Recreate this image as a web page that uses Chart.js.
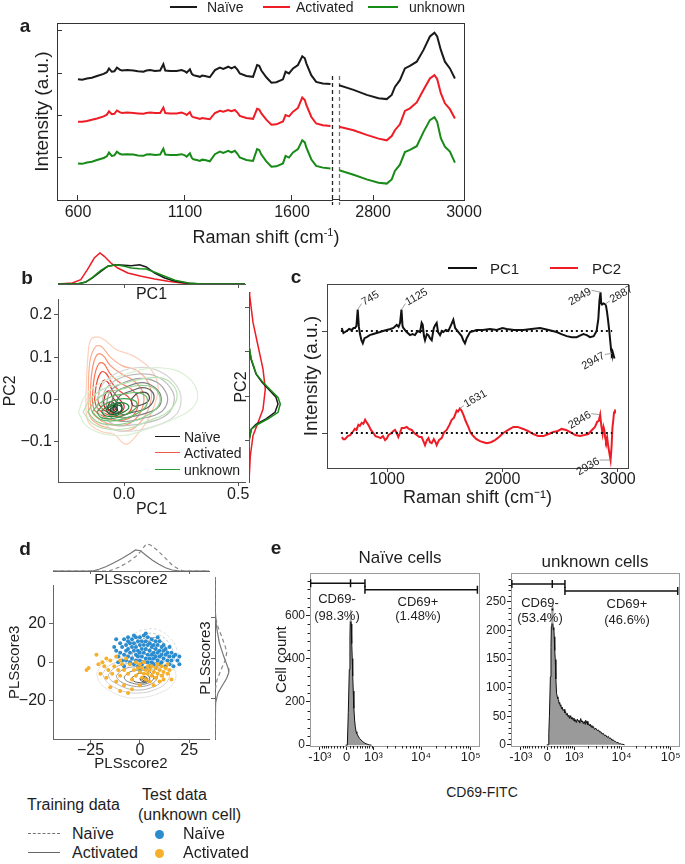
<!DOCTYPE html>
<html><head><meta charset="utf-8">
<script src="https://cdn.jsdelivr.net/npm/chart.js@4.4.1/dist/chart.umd.min.js"></script>
<style>
body{margin:0;background:#fff;}
#fig{position:relative;width:685px;height:864px;overflow:hidden;font-family:"Liberation Sans",Arial,sans-serif;color:#1e1e1e;}
#fig canvas{position:absolute;}
.t{position:absolute;white-space:nowrap;line-height:1;}
.sw{position:absolute;height:0;}
.dot{position:absolute;border-radius:50%;}
</style></head><body><div id="fig"></div>
<script>
// ---- a: mean Raman spectra (offset for display) ----
const waveA1 = [600,620,642,665,689,720,735,745,758,770,782,795,805,830,859,880,906,920,937,960,984,999,1008,1030,1061,1084,1100,1108,1123,1132,1139,1155,1170,1180,1193,1216,1240,1263,1279,1302,1317,1333,1345,1356,1387,1418,1437,1447,1457,1480,1504,1527,1558,1570,1586,1605,1628,1648,1660,1667,1690,1713,1744,1780];
const naiveA1 = [1.85,1.84,1.87,1.89,1.93,1.98,2.02,2.11,2.03,2.04,2.13,2.08,2.06,2.07,2.06,2.04,2.03,2.06,2.07,2.05,2.06,2.21,2.06,2.05,2.05,2.07,2.04,2.01,2.09,1.98,1.95,1.93,1.91,1.94,1.93,1.90,2.07,2.13,2.10,2.15,2.11,2.15,2.08,1.99,1.93,1.91,2.19,2.17,2.06,1.90,1.77,1.78,1.85,2.03,1.99,2.11,2.19,2.40,2.35,2.23,1.95,1.79,1.75,1.74];
const activatedA1 = [0.84,0.84,0.86,0.89,0.92,0.97,1.01,1.09,1.02,1.03,1.11,1.07,1.05,1.06,1.05,1.04,1.03,1.05,1.06,1.05,1.05,1.18,1.05,1.04,1.04,1.06,1.03,1.00,1.07,0.97,0.95,0.93,0.91,0.93,0.92,0.90,1.05,1.10,1.08,1.12,1.09,1.12,1.06,0.98,0.93,0.91,1.15,1.13,1.04,0.89,0.77,0.78,0.85,1.00,0.97,1.08,1.17,1.42,1.36,1.24,0.96,0.80,0.76,0.74];
const unknownA1 = [-0.15,-0.16,-0.13,-0.11,-0.07,-0.02,0.02,0.11,0.03,0.04,0.13,0.08,0.06,0.07,0.06,0.04,0.03,0.06,0.07,0.05,0.06,0.20,0.06,0.05,0.05,0.07,0.04,0.01,0.09,-0.02,-0.05,-0.07,-0.09,-0.06,-0.07,-0.10,0.07,0.13,0.10,0.15,0.11,0.15,0.08,-0.01,-0.07,-0.09,0.19,0.17,0.06,-0.10,-0.23,-0.22,-0.15,0.03,-0.01,0.11,0.19,0.40,0.35,0.23,-0.05,-0.21,-0.25,-0.27];
const waveA2 = [2725,2757,2786,2812,2830,2841,2848,2859,2870,2881,2896,2911,2925,2935,2941,2949,2958,2969,2980];
const naiveA2 = [1.71,1.60,1.48,1.40,1.38,1.48,1.67,1.83,2.11,2.17,2.27,2.55,2.87,2.96,2.87,2.55,2.27,2.11,1.87];
const activatedA2 = [0.72,0.64,0.53,0.44,0.40,0.50,0.64,0.78,1.10,1.16,1.30,1.60,1.87,1.95,1.86,1.52,1.28,1.14,0.92];
const unknownA2 = [-0.31,-0.42,-0.53,-0.61,-0.63,-0.53,-0.33,-0.18,0.12,0.17,0.26,0.60,0.88,0.95,0.84,0.45,0.25,0.13,-0.13];
const tickA1 = [600,1100,1600];
const tickA2 = [2800,3000];
const tickAy = [0,1,2,3];

// ---- b: PCA scores, KDE contours and marginals ----
const tickB1 = [0,0.5], tickB1Lab = ['0.0','0.5'];
const tickB2 = [-0.1,0,0.1,0.2], tickB2Lab = ['\u22120.1','0.0','0.1','0.2'];
const bRed = [
 [[-0.168,0.008],[-0.158,0.107],[-0.146,0.141],[-0.117,0.148],[-0.087,0.141],[-0.035,0.118],[0.023,0.107],[0.053,0.099],[0.12,0.069],[0.149,0.031],[0.127,-0.022],[0.09,-0.06],[0.046,-0.09],[0.016,-0.105],[-0.006,-0.102],[-0.043,-0.083],[-0.102,-0.075],[-0.158,-0.052]],
 [[-0.158,0.0],[-0.15,0.09],[-0.125,0.125],[-0.1,0.125],[-0.06,0.1],[-0.01,0.08],[0.05,0.07],[0.1,0.045],[0.12,0.01],[0.1,-0.03],[0.05,-0.065],[0.0,-0.075],[-0.05,-0.07],[-0.11,-0.06],[-0.15,-0.04]],
 [[-0.15,0.0],[-0.14,0.07],[-0.12,0.105],[-0.095,0.105],[-0.06,0.08],[-0.01,0.06],[0.04,0.045],[0.08,0.02],[0.085,-0.01],[0.06,-0.04],[0.01,-0.06],[-0.05,-0.06],[-0.1,-0.05],[-0.14,-0.03]],
 [[-0.14,0.0],[-0.13,0.055],[-0.11,0.085],[-0.09,0.085],[-0.06,0.06],[-0.02,0.04],[0.03,0.025],[0.06,0.005],[0.055,-0.025],[0.02,-0.045],[-0.04,-0.05],[-0.09,-0.04],[-0.13,-0.025]],
 [[-0.13,0.0],[-0.12,0.04],[-0.1,0.065],[-0.08,0.062],[-0.055,0.04],[-0.02,0.02],[0.02,0.005],[0.035,-0.015],[0.01,-0.035],[-0.04,-0.04],[-0.09,-0.032],[-0.12,-0.018]],
 [[-0.115,0.0],[-0.105,0.03],[-0.09,0.045],[-0.07,0.04],[-0.05,0.02],[-0.02,0.0],[0.0,-0.015],[-0.015,-0.03],[-0.05,-0.033],[-0.09,-0.025],[-0.11,-0.012]],
 [[-0.09,-0.005],[-0.08,0.015],[-0.065,0.02],[-0.05,0.005],[-0.03,-0.012],[-0.04,-0.025],[-0.065,-0.027],[-0.085,-0.018]],
 [[-0.07,-0.015],[-0.06,-0.005],[-0.045,-0.01],[-0.045,-0.022],[-0.06,-0.025],[-0.072,-0.02]]
];
const bGray = [
 [[-0.12,-0.02],[-0.1,0.03],[-0.04,0.06],[0.05,0.075],[0.14,0.07],[0.22,0.04],[0.25,0.0],[0.22,-0.04],[0.12,-0.065],[0.02,-0.075],[-0.07,-0.065]],
 [[-0.1,-0.02],[-0.08,0.025],[-0.02,0.05],[0.06,0.06],[0.14,0.055],[0.2,0.03],[0.22,0.0],[0.19,-0.035],[0.1,-0.055],[0.0,-0.062],[-0.06,-0.055]],
 [[-0.08,-0.02],[-0.06,0.02],[0.0,0.04],[0.07,0.05],[0.14,0.042],[0.18,0.02],[0.19,-0.005],[0.16,-0.03],[0.08,-0.045],[0.0,-0.052],[-0.05,-0.045]],
 [[-0.06,-0.02],[-0.04,0.015],[0.01,0.03],[0.08,0.04],[0.13,0.03],[0.16,0.01],[0.155,-0.015],[0.11,-0.03],[0.04,-0.04],[-0.02,-0.042]],
 [[-0.04,-0.02],[-0.02,0.008],[0.03,0.02],[0.08,0.028],[0.12,0.02],[0.13,0.0],[0.1,-0.02],[0.04,-0.03],[-0.01,-0.035]],
 [[0.03,0.0],[0.06,0.015],[0.1,0.015],[0.11,0.0],[0.08,-0.012],[0.04,-0.015]],
 [[-0.05,-0.02],[-0.03,-0.008],[-0.01,-0.015],[-0.02,-0.03],[-0.045,-0.03]]
];
const bGreen = [
 [[-0.2,-0.03],[-0.17,0.01],[-0.1,0.04],[-0.02,0.055],[0.07,0.07],[0.16,0.075],[0.26,0.06],[0.32,0.02],[0.3,-0.02],[0.2,-0.05],[0.1,-0.07],[0.0,-0.085],[-0.1,-0.08],[-0.17,-0.06]],
 [[-0.18,-0.03],[-0.15,0.0],[-0.09,0.025],[0.0,0.038],[0.09,0.05],[0.17,0.05],[0.22,0.03],[0.23,0.0],[0.19,-0.03],[0.11,-0.05],[0.02,-0.068],[-0.07,-0.07],[-0.14,-0.056]],
 [[-0.16,-0.03],[-0.13,-0.005],[-0.08,0.015],[-0.01,0.025],[0.06,0.033],[0.12,0.03],[0.155,0.01],[0.15,-0.015],[0.1,-0.038],[0.02,-0.055],[-0.06,-0.06],[-0.12,-0.052]],
 [[-0.14,-0.03],[-0.11,-0.01],[-0.06,0.006],[0.0,0.013],[0.06,0.016],[0.1,0.004],[0.09,-0.02],[0.03,-0.04],[-0.04,-0.05],[-0.1,-0.048]],
 [[-0.12,-0.03],[-0.09,-0.013],[-0.05,-0.003],[0.0,0.002],[0.05,-0.004],[0.055,-0.018],[0.01,-0.035],[-0.05,-0.045],[-0.1,-0.043]],
 [[-0.1,-0.028],[-0.07,-0.015],[-0.03,-0.008],[0.01,-0.01],[0.02,-0.02],[-0.01,-0.032],[-0.05,-0.04],[-0.085,-0.038]],
 [[-0.08,-0.025],[-0.055,-0.015],[-0.02,-0.014],[-0.01,-0.024],[-0.035,-0.034],[-0.065,-0.034]],
 [[-0.062,-0.023],[-0.045,-0.017],[-0.03,-0.021],[-0.038,-0.029],[-0.056,-0.029]]
];
const bTopXRed = [-0.29,-0.227,-0.19,-0.161,-0.131,-0.106,-0.087,-0.058,-0.028,0.016,0.075,0.134,0.193,0.252,0.311,0.53];
const bTopRed = [0,1,4.3,14.3,26,31,27.7,21,16,11,7.7,5,2.7,1,0,0];
const bTopX = [-0.29,-0.205,-0.168,-0.139,-0.102,-0.072,-0.035,0.001,0.031,0.068,0.097,0.134,0.178,0.223,0.282,0.341,0.53];
const bTopNaive = [0,0,2,6,12.7,17.7,19.3,18.7,18.3,19.3,17,11,6,2.7,0.7,0,0];
const bTopUnknown = [0,0,2,6.7,13.7,17.7,19.3,17.7,16,15.3,15,11.7,7.7,3.7,1,0,0];
const bRightYRed = [0.236,0.228,0.167,0.114,0.061,0.016,-0.03,-0.06,-0.09,-0.136,-0.181,-0.195];
const bRightRed = [0,0.7,4,9,14,16.3,14,9,4,1.3,0.3,0];
const bRightY = [0.236,0.114,0.084,0.05,0.031,0.012,-0.003,-0.018,-0.037,-0.052,-0.064,-0.075,-0.098,-0.195];
const bRightNaive = [0,0,2,7,13,21,27,29,26,17,7,2.3,0.3,0];
const bRightUnknown = [0,0,2.3,7.3,14,22.3,29,31.3,29,19,9,2.3,0.3,0];

// ---- c: PCA loadings ----
const waveC1 = [608,622,651,672,694,710,723,735,746,756,766,778,790,805,824,850,881,910,939,965,997,1030,1055,1084,1100,1113,1125,1134,1141,1170,1199,1220,1242,1265,1286,1300,1309,1320,1329,1345,1358,1372,1387,1405,1418,1430,1442,1459,1475,1487,1510,1531,1555,1574,1590,1603,1625,1646,1660,1675,1690,1719,1750,1776,1830,1892,1950,2000,2036,2100,2180,2250,2325,2400,2469,2510,2556,2600,2642,2680,2700,2730,2758,2790,2815,2830,2840,2849,2855,2862,2873,2887,2896,2905,2915,2925,2935,2941,2947,2953,2960,2970];
const pc1 = [1.03,0.98,1.00,1.02,1.01,1.03,1.03,1.05,1.21,1.04,0.97,0.91,0.88,0.93,0.94,0.96,0.97,0.98,0.99,1.00,1.01,1.02,1.03,1.06,1.04,1.08,1.21,1.05,1.03,0.99,0.96,0.97,0.96,1.00,0.99,1.08,1.06,0.95,0.91,0.97,0.96,0.93,0.91,1.03,1.06,1.08,0.99,0.96,1.00,0.99,1.01,1.00,1.06,1.11,1.03,1.01,0.98,0.95,0.91,0.88,0.93,0.99,1.00,1.01,1.01,1.02,1.01,1.03,1.02,1.01,1.01,1.02,1.03,1.01,0.99,0.97,0.95,0.94,0.94,0.96,0.97,0.96,0.94,0.95,1.00,1.12,1.30,1.38,1.27,1.26,1.27,1.265,1.25,1.19,1.10,1.00,0.88,0.81,0.78,0.80,0.77,0.73];
const waveC2 = [608,622,636,660,680,695,708,720,735,752,765,781,795,810,820,838,860,882,900,925,945,965,983,1000,1012,1025,1040,1055,1069,1084,1098,1112,1127,1150,1170,1190,1214,1235,1257,1280,1300,1315,1329,1345,1358,1372,1387,1405,1420,1430,1450,1473,1495,1517,1540,1560,1580,1603,1615,1631,1645,1661,1680,1704,1725,1747,1775,1805,1835,1863,1900,1935,1970,2007,2050,2094,2130,2180,2220,2267,2310,2353,2400,2440,2480,2512,2550,2584,2630,2671,2710,2743,2775,2801,2820,2834,2846,2856,2867,2875,2882,2890,2896,2906,2916,2926,2936,2945,2952,2959,2966,2974];
const pc2 = [-0.04,-0.06,-0.06,-0.03,-0.02,0.00,0.02,0.04,0.03,0.08,0.07,0.10,0.09,0.13,0.11,0.08,0.03,0.00,-0.03,-0.04,-0.05,-0.03,-0.07,-0.05,-0.02,-0.01,0.00,0.02,0.03,0.00,-0.04,0.00,0.05,0.05,0.06,0.04,0.03,0.00,-0.02,-0.04,-0.04,-0.08,-0.12,-0.07,-0.05,-0.09,-0.10,-0.06,-0.09,-0.12,-0.07,-0.05,0.01,0.03,0.08,0.13,0.15,0.22,0.21,0.24,0.22,0.18,0.12,0.06,0.00,-0.03,-0.06,-0.08,-0.09,-0.10,-0.09,-0.07,-0.04,0.00,0.03,0.06,0.06,0.04,0.02,-0.01,-0.03,-0.03,-0.01,0.01,0.02,0.04,0.03,0.01,-0.02,-0.03,-0.02,-0.01,0.03,0.06,0.11,0.12,0.18,0.07,-0.01,0.06,0.03,-0.05,-0.08,-0.04,-0.13,-0.20,-0.265,-0.13,0.05,0.12,0.20,0.23];
const zeroC = [600,2950];
const tickC = [1000,2000,3000];
const annWave = [745,1125,2849,2887,2947,1631,2846,2936];
const annVal = [1.21,1.21,1.38,1.265,0.78,0.24,0.18,-0.265];
const annText = ['745','1125','2849','2887','2947','1631','2846','2936'];

// ---- d: PLS-DA scores ----
const tickD1 = [-25,0,25], tickD1Lab = ['\u221225','0','25'];
const tickD2 = [-20,0,20], tickD2Lab = ['\u221220','0','20'];
const dSolid = [
 [[-22,-6],[-19,-1],[-12,2],[-4,3],[6,2],[14,0],[18,-5],[17,-11],[10,-16],[0,-18.5],[-8,-18],[-15,-15],[-20,-11]],
 [[-19,-6],[-16,-2],[-10,0.5],[-3,1],[5,0.5],[12,-1.5],[15,-6],[13,-11],[7,-14.5],[0,-16],[-7,-15.5],[-13,-13],[-17,-10]],
 [[-16,-6.5],[-13,-3],[-8,-1],[-2,-0.5],[5,-1],[10,-3],[12,-7],[10,-11],[5,-13.5],[-1,-14.5],[-7,-13.5],[-12,-11],[-15,-9]],
 [[-12,-7],[-9,-4],[-4,-2.5],[2,-2.5],[7,-4],[9,-7.5],[7,-10.5],[2,-12.5],[-3,-12.5],[-8,-11],[-11,-9]],
 [[-8,-7.5],[-5,-5],[0,-4],[5,-5],[7,-8],[5,-10.5],[0,-11.5],[-5,-10.5],[-7.5,-9]],
 [[-4,-8],[-1,-6],[3,-6],[5,-8.5],[3,-10.5],[-1,-10.5],[-3.5,-9.5]],
 [[0,-8.5],[2,-7.5],[4,-8.5],[3,-10],[1,-10]],
 [[1,-8.8],[2.5,-8.3],[3,-9.2],[1.8,-9.6]]
];
const dDash = [
 [[-10,2],[-8,9],[-4,14],[2,17],[9,17],[15,13],[19,6],[20,-1],[16,-4],[8,-4],[0,-3],[-6,-2]],
 [[-7,3],[-5,9],[-2,13],[3,15],[9,14.5],[14,11],[17,5],[17,0],[13,-2],[6,-2],[-1,-1],[-5,0]],
 [[-4,4],[-2,9],[1,12],[5,13],[10,12],[13,8],[14,3],[12,0],[7,0],[1,1],[-3,2]],
 [[-1,5],[1,9],[4,11],[8,10.5],[11,7],[11,3],[8,1.5],[3,2],[0,3]],
 [[2,5.5],[4,8.5],[7,9],[9,6.5],[8,4],[5,3.5],[3,4]],
 [[4,6],[5.5,7.5],[7,7],[6.5,5],[5,5]]
];
const testNaive = [[-13,8],[-12,12],[-12,6],[-11,3],[-10,10],[-10,5],[-9,1],[-9,8],[-8,12],[-8,4],[-7,6],[-7,9],[-7,1],[-6,13],[-6,3],[-6,7],[-5,10],[-5,0],[-5,5],[-4,12],[-4,2],[-4,8],[-3,6],[-3,-1],[-3,10],[-2,4],[-2,13],[-2,1],[-2,8],[-1,6],[-1,11],[-1,-2],[-1,3],[0,9],[0,5],[0,1],[0,13],[1,7],[1,-1],[1,3],[1,11],[2,5],[2,9],[2,0],[2,14],[3,2],[3,7],[3,-3],[3,11],[4,4],[4,9],[4,0],[4,13],[5,6],[5,2],[5,-2],[5,10],[6,8],[6,4],[6,0],[6,12],[7,5],[7,-1],[7,9],[7,2],[8,7],[8,11],[8,3],[8,-3],[9,5],[9,1],[9,9],[10,6],[10,-1],[10,3],[10,11],[11,8],[11,4],[11,0],[12,6],[12,2],[12,9],[13,-2],[13,4],[13,7],[14,1],[14,5],[15,3],[15,8],[15,-1],[16,5],[16,1],[17,3],[17,-2],[18,4],[19,1],[20,3],[20,-1],[-11,0],[-8,-2],[-3,14],[3,15],[0,-4],[9,13],[-6,11]];
const testActivated = [[-27,-4],[-26,-3],[-22,4],[-21,-1],[-20,-6],[-19,0],[-18,-2],[-17,-8],[-17,2],[-16,-4],[-15,1],[-15,-13],[-14,-6],[-13,-2],[-12,3],[-12,-10],[-11,-4],[-10,1],[-10,-7],[-9,-1],[-8,-12],[-8,-4],[-7,2],[-6,-6],[-5,-1],[-4,-9],[-4,-14],[-3,-4],[-2,0],[-2,-7],[-1,-3],[0,-5],[0,-1],[1,-8],[1,-3],[2,-6],[2,0],[3,-4],[3,-9],[4,-2],[4,-6],[5,-4],[5,-10],[6,-7],[6,-2],[7,-5],[7,-12],[8,-3],[8,-8],[9,-6],[9,-1],[10,-4],[10,-10],[11,-7],[11,-2],[12,-5],[12,-9],[13,-3],[14,-6],[15,-4],[14,-1],[-6,-16],[16,-9],[0,-12],[-10,-15]];
const dTopSolidX = [-44,-24.1,-20.7,-17.3,-13.1,-8.9,-4.7,-2.2,0.3,2.9,6.2,9.6,13,16.3,20.5,35];
const dTopSolid = [0,0,1.7,4.3,8.3,12.7,17.7,21,20.3,16,11,6.7,3.3,1,0,0];
const dTopDashX = [-44,-15.7,-10.6,-5.6,-2.2,0.3,3.2,5.4,8.7,13,16.3,19.7,22.2,35];
const dTopDash = [0,0,3.7,9.3,14.3,19.3,27,26,21,12.7,6,1.7,0,0];
const dRightSolidY = [40,25.3,15.4,7.3,0.7,-5.1,-7.2,-10,-14.1,-17.4,-22.3,-27.2,-40];
const dRightSolid = [0,0,1.7,5,10,15,15.7,13.3,7.7,3.3,0.7,0,0];
const dRightDashY = [40,21.2,15.4,10.5,5.6,2.6,-1,-5.9,-10.8,-15.8,-19,-40];
const dRightDash = [0,0,3.3,7.7,11.7,13.3,11.7,6.7,2.3,0.3,0,0];

// ---- e: flow cytometry CD69 ----
const naiveHistX = [-30,20,48,78,97,110,116,126,136,150,166,180,196,215,238,260,285,309,350,401,450,517,600,727,800,900];
const naiveHistY = [0,0,150,350,500,600,625,610,560,470,400,320,250,170,116,85,62,54,42,31,24,16,9,3,1,0];
const unknownHistX = [-20,19,40,58,87,105,116,130,145,160,175,190,204,220,235,255,277,300,320,341,360,380,400,420,445,470,500,538,570,600,635,671,705,740,780,828,870,900,950,990,1040,1080,1130,1190,1250,1300,1360,1425,1490,1550,1620,1700,1770,1830,1900,1970,2040,2120,2200,2290,2380,2470,2560,2660,2800,3000,3200,3400,3600,3800,4000,4270,4500,4800,5100,5390,5700,6000,6400,6780,7200,7600,8000,8530,9000,9600,10100,10700,11560];
const unknownHistY = [0,0,20,49,119,170,207,235,242,215,201,205,189,165,149,115,90,84,80,79,72,74,68,70,63,66,60,62,56,58,52,55,49,52,46,51,45,48,43,47,41,44,39,45,41,43,38,46,40,42,37,41,36,43,38,41,35,37,33,36,31,34,30,32,27,29,25,26,22,23,19,20,16,17,13,15,11,12,8,9,6,6,4,4,2,2,1,1,0];
const gateNaiveNeg = [-1620,114,602], gateNaivePos = [602,137000];
const gateUnknownNeg = [-1600,144,574], gateUnknownPos = [574,139000];
const gateLevel = {naiveNeg:749, naivePos:718, unknownNeg:281, unknownPos:269};
const tickE = [-1000,0,1000,10000,100000];
const tickELab = ['-10\u00b3','0','10\u00b3','10\u2074','10\u2075'];
const minorEX = [-900,-800,-700,-600,-500,-400,-300,-200,-100,100,200,300,400,500,600,700,800,900,2000,3000,4000,5000,6000,7000,8000,9000,20000,30000,40000,50000,60000,70000,80000,90000];
const tickENaiveY = [0,200,400,600];
const minorENaiveY = [40,80,120,160,240,280,320,360,440,480,520,560,640,680,720,760];
const tickEUnknownY = [0,50,100,150,200,250];
const minorEUnknownY = [10,20,30,40,60,70,80,90,110,120,130,140,160,170,180,190,210,220,230,240,260,270,280,290];

// ------------------------------------------------------------
const FONT = '"Liberation Sans", Arial, sans-serif';
Chart.defaults.font.family = FONT;
Chart.defaults.font.size = 15;
Chart.defaults.color = '#1e1e1e';
Chart.defaults.animation = false;
Chart.defaults.responsive = false;
Chart.defaults.devicePixelRatio = 1;
Chart.defaults.events = [];
Chart.defaults.plugins.legend.display = false;
Chart.defaults.plugins.tooltip.enabled = false;
Chart.defaults.elements.point.radius = 0;
Chart.defaults.elements.line.borderWidth = 2;

// biexponential-like display scale for flow data
class AsinhScale extends Chart.LinearScale {
  configure() {
    super.configure();
    this._w = this.options.cofactor || 629;
    this._t0 = Math.asinh(this.min / this._w);
    this._t1 = Math.asinh(this.max / this._w);
  }
  getPixelForValue(v) {
    return this.getPixelForDecimal((Math.asinh(v / this._w) - this._t0) / (this._t1 - this._t0));
  }
  getValueForPixel(p) {
    const d = this.getDecimalForPixel(p);
    return Math.sinh(this._t0 + d * (this._t1 - this._t0)) * this._w;
  }
}
AsinhScale.id = 'asinh';
AsinhScale.defaults = Chart.LinearScale.defaults;
Chart.register(AsinhScale);

const fig = document.getElementById('fig');
const xy = (xs, ys) => xs.map((x, i) => ({x: x, y: ys[i]}));
const yx = (ys, xs) => ys.map((y, i) => ({x: xs[i], y: y}));

function plot(x, y, w, h, cfg) {
  const c = document.createElement('canvas');
  c.width = w; c.height = h;
  c.style.left = x + 'px'; c.style.top = y + 'px';
  c.style.width = w + 'px'; c.style.height = h + 'px';
  fig.appendChild(c);
  return new Chart(c, cfg);
}

function ax(o) {
  const col = o.bc || '#333';
  const s = {
    type: o.type || 'linear',
    position: o.pos,
    min: o.min, max: o.max,
    border: {display: o.border !== false, color: col, width: 1},
    grid: {display: !!o.tl, drawOnChartArea: false, drawTicks: !!o.tl, tickLength: o.tl || 0, color: o.tc || col, tickColor: o.tc || col},
    ticks: {display: !!o.labels, padding: o.pad || 0, autoSkip: false, maxRotation: 0, font: {size: o.fs || 16}, color: '#1e1e1e'},
    title: {display: !!o.title, text: o.title || '', padding: o.tpad || 0, font: {size: o.tfs || 15}, color: '#1e1e1e'}
  };
  if (o.labels) s.ticks.callback = (v, i) => o.labels[i];
  if (o.ticks) s.afterBuildTicks = sc => { sc.ticks = o.ticks.map(v => ({value: v})); };
  if (o.size != null) s.afterFit = sc => { if (sc.isHorizontal()) sc.height = o.size; else sc.width = o.size; };
  if (o.cofactor) s.cofactor = o.cofactor;
  return s;
}

function txt(s, x, y, o) {
  o = o || {};
  const d = document.createElement('div');
  d.className = 't';
  d.innerHTML = s;
  d.style.fontSize = (o.size || 15) + 'px';
  if (o.bold) d.style.fontWeight = 'bold';
  if (o.bg) d.style.background = o.bg;
  const a = o.align || 'c';
  d.style.left = x + 'px'; d.style.top = y + 'px';
  d.style.transform = a === 'c' ? 'translate(-50%,-50%)' : a === 'l' ? 'translate(0,-50%)' : 'translate(-100%,-50%)';
  fig.appendChild(d);
}
function sw(x1, x2, y, color, w, dashed) {
  const d = document.createElement('div');
  d.className = 'sw';
  d.style.left = x1 + 'px'; d.style.width = (x2 - x1) + 'px';
  d.style.top = (y - w / 2) + 'px';
  d.style.borderTop = w + 'px ' + (dashed ? 'dashed' : 'solid') + ' ' + color;
  fig.appendChild(d);
}
function dot(x, y, color, r) {
  const d = document.createElement('div');
  d.className = 'dot';
  d.style.left = (x - r) + 'px'; d.style.top = (y - r) + 'px';
  d.style.width = 2 * r + 'px'; d.style.height = 2 * r + 'px';
  d.style.background = color;
  fig.appendChild(d);
}

function loops(polys, colors, width, dash, order) {
  return polys.map((p, i) => ({
    data: p.concat([p[0]]).map(q => ({x: q[0], y: q[1]})),
    borderColor: colors[i], borderWidth: width, borderDash: dash, tension: 0.4, order: order
  }));
}

// plugins
const breakMarks = {
  id: 'breakMarks',
  afterDraw(chart) {
    const {ctx, chartArea: a} = chart;
    ctx.save();
    ctx.strokeStyle = '#333'; ctx.lineWidth = 1;
    ctx.beginPath();
    ctx.moveTo(a.right, Math.round(a.top) + 0.5); ctx.lineTo(a.right + 8, Math.round(a.top) + 0.5);
    ctx.moveTo(a.right, Math.round(a.bottom) - 0.5); ctx.lineTo(a.right + 8, Math.round(a.bottom) - 0.5);
    ctx.stroke();
    ctx.setLineDash([4, 3]); ctx.lineWidth = 1.3;
    ctx.strokeStyle = '#222';
    ctx.beginPath(); ctx.moveTo(a.right + 0.5, a.top + 53); ctx.lineTo(a.right + 0.5, a.bottom + 5); ctx.stroke();
    ctx.strokeStyle = '#777';
    ctx.beginPath(); ctx.moveTo(a.right + 7.5, a.top + 53); ctx.lineTo(a.right + 7.5, a.bottom + 5); ctx.stroke();
    ctx.restore();
  }
};
const annC = {
  id: 'annC',
  afterDatasetsDraw(chart) {
    const {ctx, scales: {x, y}} = chart;
    const lead = [[4,-6],[4,-6],[-9,-2],[5,-3],[-7,1],[4,-3],[-9,-1],[-11,0]];
    ctx.save();
    ctx.font = '11px ' + FONT;
    ctx.fillStyle = '#222'; ctx.strokeStyle = '#888'; ctx.lineWidth = 0.8;
    annWave.forEach((w, i) => {
      const px = x.getPixelForValue(w), py = y.getPixelForValue(annVal[i]);
      const ex = px + lead[i][0], ey = py + lead[i][1];
      ctx.beginPath(); ctx.moveTo(px, py); ctx.lineTo(ex, ey); ctx.stroke();
      ctx.save(); ctx.translate(ex, ey); ctx.rotate(-Math.PI / 6);
      ctx.textAlign = lead[i][0] < 0 ? 'right' : 'left';
      ctx.textBaseline = 'middle';
      ctx.fillText(annText[i], lead[i][0] < 0 ? -1 : 1, 0);
      ctx.restore();
    });
    ctx.restore();
  }
};
const minorTicks = {
  id: 'minorTicks',
  afterDraw(chart, args, opts) {
    const {ctx, scales} = chart;
    ctx.save(); ctx.strokeStyle = '#222'; ctx.lineWidth = 1;
    ctx.beginPath();
    (opts.x || []).forEach(v => {
      const p = Math.round(scales.x.getPixelForValue(v)) + 0.5;
      ctx.moveTo(p, scales.x.top); ctx.lineTo(p, scales.x.top + 2.5);
    });
    (opts.y || []).forEach(v => {
      const p = Math.round(scales.y.getPixelForValue(v)) + 0.5;
      ctx.moveTo(scales.y.right, p); ctx.lineTo(scales.y.right - 2.5, p);
    });
    ctx.stroke();
    ctx.restore();
  }
};

const BLACK = '#1a1a1a', RED = '#ee1c25', GREEN = '#178a17';

// ===== panel a =====
const aY = {min: -1.02, max: 3.19};
plot(0, 15, 345, 235, {
  type: 'line',
  data: {datasets: [
    {data: xy(waveA1, naiveA1), borderColor: BLACK},
    {data: xy(waveA1, activatedA1), borderColor: RED},
    {data: xy(waveA1, unknownA1), borderColor: GREEN}
  ]},
  options: {
    layout: {padding: {left: 0, right: 13, top: 8, bottom: 0}},
    scales: {
      x: ax({pos: 'bottom', min: 502, max: 1787, ticks: tickA1, labels: tickA1.map(String), tl: -5, pad: 8, size: 50}),
      x2: ax({pos: 'top', min: 0, max: 1, size: 0}),
      y: ax({pos: 'left', min: aY.min, max: aY.max, ticks: tickAy, tl: -5, size: 57, title: 'Intensity (a.u.)', tfs: 19, tpad: {top: 31}})
    }
  },
  plugins: [breakMarks]
});
plot(332, 15, 160, 235, {
  type: 'line',
  data: {datasets: [
    {data: xy(waveA2, naiveA2), borderColor: BLACK},
    {data: xy(waveA2, activatedA2), borderColor: RED},
    {data: xy(waveA2, unknownA2), borderColor: GREEN}
  ]},
  options: {
    layout: {padding: {left: 7, right: 0, top: 8, bottom: 0}},
    scales: {
      x: ax({pos: 'bottom', min: 2725, max: 3000, ticks: tickA2, labels: tickA2.map(String), tl: -5, pad: 8, size: 50}),
      x2: ax({pos: 'top', min: 0, max: 1, size: 0}),
      y: ax({pos: 'right', min: aY.min, max: aY.max, size: 28})
    }
  }
});
txt('a', 25, 25, {size: 19, bold: true});
sw(170, 197, 7, BLACK, 2.5); txt('Na\u00efve', 207, 7, {align: 'l', size: 14});
sw(263, 290, 7, RED, 2.5); txt('Activated', 296, 7, {align: 'l', size: 14});
sw(368, 398, 7, GREEN, 2.5); txt('unknown', 409, 7, {align: 'l', size: 14});
txt('Raman shift (cm<sup style="font-size:11px">-1</sup>)', 266, 236, {size: 18});

// ===== panel b =====
const redCols = ['#fdd0bc','#fcb195','#fc9272','#fb7050','#f14a32','#d92723','#b91419','#8f0b13'];
const grayCols = ['#d6d6d6','#bdbdbd','#a0a0a0','#838383','#666666','#4a4a4a','#2e2e2e'];
const greenCols = ['#d9f0d3','#bde3b5','#95d18e','#68ba69','#3ea14e','#1f8738','#0c6b2b','#00501f'];
plot(0, 288, 250, 231, {
  type: 'line',
  data: {datasets: [].concat(
    loops(bGreen, greenCols, 1.2, [], 1),
    loops(bGray, grayCols, 1.2, [], 2),
    loops(bRed, redCols, 1.2, [], 3)
  )},
  options: {
    layout: {padding: {top: 4, right: 5}},
    scales: {
      x: ax({pos: 'bottom', min: -0.29, max: 0.53, ticks: tickB1, labels: tickB1Lab, tl: 4, pad: -1, size: 37, bc: '#555', title: 'PC1', tfs: 16}),
      y: ax({pos: 'left', min: -0.195, max: 0.236, ticks: tickB2, labels: tickB2Lab, tl: 4, pad: 2, size: 58, bc: '#555', title: 'PC2', tfs: 16, tpad: {top: 1}})
    }
  }
});
plot(0, 246, 250, 58, {
  type: 'line',
  data: {datasets: [
    {data: xy(bTopX, bTopUnknown), borderColor: GREEN, borderWidth: 1.5},
    {data: xy(bTopX, bTopNaive), borderColor: BLACK, borderWidth: 1.5},
    {data: xy(bTopXRed, bTopRed), borderColor: RED, borderWidth: 1.5}
  ]},
  options: {
    layout: {padding: {left: 58, right: 5, top: 4}},
    scales: {
      x: ax({pos: 'bottom', min: -0.29, max: 0.53, ticks: tickB1, tl: 4, size: 20, bc: '#555', title: 'PC1', tfs: 16}),
      y: {display: false, min: 0, max: 34}
    }
  }
});
plot(232, 288, 58, 228, {
  type: 'line',
  data: {datasets: [
    {data: yx(bRightY, bRightUnknown), borderColor: GREEN, borderWidth: 1.5},
    {data: yx(bRightY, bRightNaive), borderColor: BLACK, borderWidth: 1.5},
    {data: yx(bRightYRed, bRightRed), borderColor: RED, borderWidth: 1.5}
  ]},
  options: {
    layout: {padding: {right: 5, top: 4, bottom: 34}},
    scales: {
      x: {type: 'linear', display: false, min: 0, max: 36},
      y: ax({pos: 'left', min: -0.195, max: 0.236, ticks: tickB2, tl: 4, size: 17, bc: '#555', title: 'PC2', tfs: 16})
    }
  }
});
txt('b', 27, 277, {size: 19, bold: true});
sw(155, 180, 437, BLACK, 1.5); txt('Na\u00efve', 184, 437, {align: 'l', size: 14});
sw(155, 180, 453, '#ec5a47', 1.5); txt('Activated', 184, 453, {align: 'l', size: 14});
sw(155, 180, 470, '#2a9a3a', 1.5); txt('unknown', 184, 470, {align: 'l', size: 14});

// ===== panel c =====
plot(290, 276, 395, 233, {
  type: 'line',
  data: {datasets: [
    {data: xy(zeroC, [1, 1]), borderColor: '#111', borderWidth: 2, borderDash: [2, 3]},
    {data: xy(zeroC, [0, 0]), borderColor: '#111', borderWidth: 2, borderDash: [2, 3]},
    {data: xy(waveC1, pc1), borderColor: '#111', borderWidth: 2},
    {data: xy(waveC2, pc2), borderColor: RED, borderWidth: 2}
  ]},
  options: {
    layout: {padding: {right: 57, top: 8}},
    scales: {
      x: ax({pos: 'bottom', min: 480, max: 3087, ticks: tickC, labels: tickC.map(String), tl: 4, pad: -2, size: 41, bc: '#444', title: 'Raman shift (cm\u207b\u00b9)', tfs: 18}),
      x2: ax({pos: 'top', min: 0, max: 1, size: 0, bc: '#444'}),
      y: ax({pos: 'left', min: -0.343, max: 1.461, ticks: [0, 1], tl: 5, size: 37, bc: '#444', title: 'Intensity (a.u.)', tfs: 19, tpad: {top: 10}}),
      y2: ax({pos: 'right', min: 0, max: 1, size: 0, bc: '#444'})
    }
  },
  plugins: [annC]
});
txt('c', 296, 276, {size: 19, bold: true});
sw(448, 477, 268, '#111', 2.5); txt('PC1', 490, 268, {align: 'l', size: 15});
sw(550, 578, 268, RED, 2.5); txt('PC2', 592, 268, {align: 'l', size: 15});

// ===== panel d =====
const solidCols = ['#e6e6e6','#cfcfcf','#b6b6b6','#9a9a9a','#7a7a7a','#555555','#2e2e2e','#111111'];
const dashCols = ['#e0e0e0','#c8c8c8','#aaaaaa','#8a8a8a','#6a6a6a','#4a4a4a'];
plot(0, 573, 215, 200, {
  type: 'line',
  data: {datasets: [].concat(
    [{type: 'scatter', data: testActivated.map(p => ({x: p[0], y: p[1]})), pointRadius: 2, pointBorderWidth: 0, backgroundColor: '#f6b02c', order: 0},
     {type: 'scatter', data: testNaive.map(p => ({x: p[0], y: p[1]})), pointRadius: 2, pointBorderWidth: 0, backgroundColor: '#2b8ccf', order: 1}],
    loops(dDash, dashCols, 1, [3, 2], 5),
    loops(dSolid, solidCols, 1, [], 6)
  )},
  options: {
    layout: {padding: {top: 4, right: 6}},
    scales: {
      x: ax({pos: 'bottom', min: -44, max: 35, ticks: tickD1, labels: tickD1Lab, tl: 4, pad: -2, size: 34, bc: '#666', title: 'PLSscore2'}),
      y: ax({pos: 'left', min: -40, max: 40, ticks: tickD2, labels: tickD2Lab, tl: 4, pad: 3, size: 53, bc: '#666', title: 'PLSscore3', tpad: {top: 6}})
    }
  }
});
plot(0, 536, 215, 53, {
  type: 'line',
  data: {datasets: [
    {data: xy(dTopDashX, dTopDash), borderColor: '#888', borderWidth: 1.2, borderDash: [4, 3]},
    {data: xy(dTopSolidX, dTopSolid), borderColor: '#777', borderWidth: 1.2}
  ]},
  options: {
    layout: {padding: {left: 53, right: 6, top: 4}},
    scales: {
      x: ax({pos: 'bottom', min: -44, max: 35, ticks: tickD1, tl: 3, size: 18, bc: '#666', title: 'PLSscore2'}),
      y: {display: false, min: 0, max: 31}
    }
  }
});
plot(197, 573, 48, 200, {
  type: 'line',
  data: {datasets: [
    {data: yx(dRightDashY, dRightDash), borderColor: '#888', borderWidth: 1.2, borderDash: [4, 3]},
    {data: yx(dRightSolidY, dRightSolid), borderColor: '#777', borderWidth: 1.2}
  ]},
  options: {
    layout: {padding: {right: 8, top: 4, bottom: 34}},
    scales: {
      x: {type: 'linear', display: false, min: 0, max: 25},
      y: ax({pos: 'left', min: -40, max: 40, ticks: tickD2, tl: 4, size: 18, bc: '#666', title: 'PLSscore3'})
    }
  }
});
txt('d', 25, 548, {size: 19, bold: true});
txt('Training data', 27, 805, {align: 'l', size: 16});
txt('Test data', 142, 795, {align: 'l', size: 16});
txt('(unknown cell)', 138, 815, {align: 'l', size: 16});
sw(28, 60, 834, '#777', 1.3, true); txt('Na\u00efve', 72, 834, {align: 'l', size: 16});
sw(28, 60, 853, '#666', 1.3); txt('Activated', 72, 853, {align: 'l', size: 16});
dot(159, 834, '#2b8ccf', 4.5); txt('Na\u00efve', 183, 834, {align: 'l', size: 16});
dot(159, 853, '#f6b02c', 4.5); txt('Activated', 183, 853, {align: 'l', size: 16});

// ===== panel e =====
function gateSets(neg, pos, yNeg, yPos) {
  const st = {borderColor: '#111', borderWidth: 1.5, pointStyle: 'line', rotation: 90, pointRadius: 4, pointBorderColor: '#111', pointBorderWidth: 1.5};
  return [
    Object.assign({data: neg.map(v => ({x: v, y: yNeg}))}, st),
    Object.assign({data: pos.map(v => ({x: v, y: yPos}))}, st)
  ];
}
function flow(x, w, yArea, histX, histY, yTicks, yMinor, ySize, gates, title) {
  return plot(x, 565, w, 205, {
    type: 'line',
    data: {datasets: gates.concat([
      {data: xy(histX, histY), borderColor: '#111', borderWidth: 1, backgroundColor: '#9a9a9a', fill: 'origin', tension: 0}
    ])},
    options: {
      layout: {padding: {right: 3, top: 8}},
      scales: {
        x: ax({type: 'asinh', cofactor: 629, pos: 'bottom', min: -1670, max: 151000, ticks: tickE, labels: tickELab, tl: 4, fs: 13, size: 24, bc: '#999', tc: '#222'}),
        x2: ax({pos: 'top', min: 0, max: 1, size: 0, bc: '#999'}),
        y: ax({pos: 'left', min: yArea[0], max: yArea[1], ticks: yTicks, labels: yTicks.map(String), tl: 4, pad: 1, fs: 12, size: ySize, bc: '#999', tc: '#222', title: title, tfs: 15, tpad: {top: 3}}),
        y2: ax({pos: 'right', min: 0, max: 1, size: 0, bc: '#999'})
      },
      plugins: {minorTicks: {x: minorEX, y: yMinor}}
    },
    plugins: [minorTicks]
  });
}
flow(270, 215, [-4, 795], naiveHistX, naiveHistY, tickENaiveY, minorENaiveY, 40,
  gateSets(gateNaiveNeg, gateNaivePos, gateLevel.naiveNeg, gateLevel.naivePos), 'Cell count');
flow(480, 205, [-2, 300], unknownHistX, unknownHistY, tickEUnknownY, minorEUnknownY, 31,
  gateSets(gateUnknownNeg, gateUnknownPos, gateLevel.unknownNeg, gateLevel.unknownPos), '');
txt('e', 276, 547, {size: 19, bold: true});
txt('Na\u00efve cells', 400, 557, {size: 17});
txt('unknown cells', 595, 561, {size: 17});
txt('CD69-FITC', 482, 792, {size: 14});
const wbg = 'rgba(255,255,255,0.6)';
txt('CD69-', 337, 598, {size: 13, bg: wbg}); txt('(98.3%)', 337, 615, {size: 13, bg: wbg});
txt('CD69+', 418, 601, {size: 13}); txt('(1.48%)', 418, 615, {size: 13});
txt('CD69-', 540, 602, {size: 13, bg: wbg}); txt('(53.4%)', 540, 617, {size: 13, bg: wbg});
txt('CD69+', 627, 603, {size: 13}); txt('(46.6%)', 627, 619, {size: 13});
</script></body></html>
